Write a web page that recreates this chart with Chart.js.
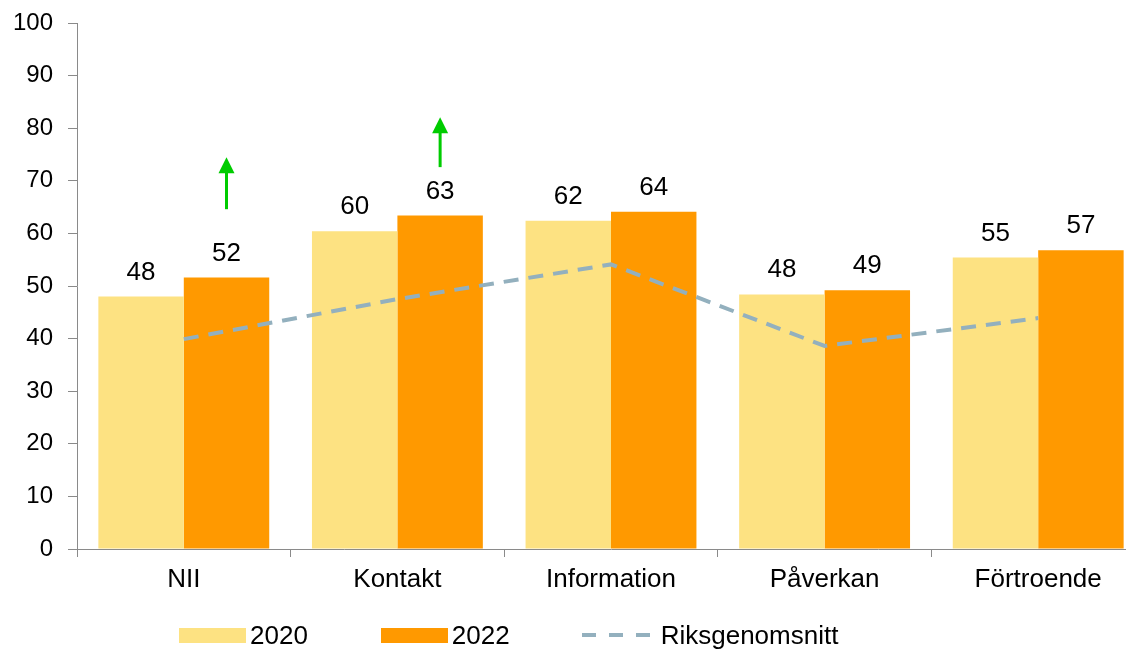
<!DOCTYPE html>
<html>
<head>
<meta charset="utf-8">
<script src="https://cdn.jsdelivr.net/npm/chart.js@4"></script>
<style>
    html, body { margin: 0; padding: 0; background: #fff; overflow: hidden; }
    #wrap { position: relative; width: 1150px; height: 650px; }
    #legend {
        position: absolute; left: 179px; top: 620px; height: 31px;
        display: flex; align-items: center;
        font-family: 'Liberation Sans', Arial, sans-serif; font-size: 26px; color: #000;
    }
    .box { width: 67px; height: 15px; margin-right: 4px; }
    .dash {
        width: 68px; height: 4px; margin-right: 11px; margin-top: -2px;
        background: repeating-linear-gradient(to right, #93B0BE 0 14px, transparent 14px 27px);
    }
</style>
</head>
<body>
<div id="wrap">
    <canvas id="chart" width="1150" height="650"></canvas>
    <div id="legend">
        <div class="box" style="background:#FDE282"></div><span style="margin-right:73px">2020</span>
        <div class="box" style="background:#FF9900"></div><span style="margin-right:72px">2022</span>
        <div class="dash"></div><span>Riksgenomsnitt</span>
    </div>
</div>
<script>
// Data
const categories = ['NII', 'Kontakt', 'Information', 'Påverkan', 'Förtroende'];
const values2020 = [48.0, 60.4, 62.4, 48.4, 55.4];
const values2022 = [51.6, 63.4, 64.1, 49.2, 56.8];
const riksgenomsnitt = [39.9, 47.5, 54.1, 38.6, 43.9];
// green arrows over the 2022 bars (from / to in axis values)
const arrowFrom = [64.6, 72.6, null, null, null];
const arrowTo = [74.5, 82.1, null, null, null];

Chart.defaults.font.family = "'Liberation Sans', Arial, sans-serif";
Chart.defaults.color = '#000';

// labels above bars
const barLabels = {
    id: 'barLabels',
    afterDatasetsDraw(chart) {
        const ctx = chart.ctx;
        ctx.save();
        ctx.font = "26px 'Liberation Sans', Arial, sans-serif";
        ctx.fillStyle = '#000';
        ctx.textAlign = 'center';
        ctx.textBaseline = 'alphabetic';
        [0, 1].forEach(di => {
            const meta = chart.getDatasetMeta(di);
            meta.data.forEach((bar, i) => {
                const v = chart.data.datasets[di].data[i];
                ctx.fillText(Math.round(v), bar.x, bar.y - 17);
            });
        });
        ctx.restore();
    }
};

const arrows = {
    id: 'arrows',
    afterDatasetsDraw(chart) {
        const ctx = chart.ctx;
        const y = chart.scales.y;
        const meta = chart.getDatasetMeta(1);
        ctx.save();
        ctx.fillStyle = '#00CC00';
        ctx.strokeStyle = '#00CC00';
        arrowFrom.forEach((from, i) => {
            if (from == null) return;
            const x = meta.data[i].x;
            const y0 = y.getPixelForValue(from);
            const y1 = y.getPixelForValue(arrowTo[i]);
            ctx.lineWidth = 3;
            ctx.beginPath();
            ctx.moveTo(x, y0);
            ctx.lineTo(x, y1 + 14);
            ctx.stroke();
            ctx.beginPath();
            ctx.moveTo(x, y1);
            ctx.lineTo(x - 8, y1 + 16);
            ctx.lineTo(x + 8, y1 + 16);
            ctx.closePath();
            ctx.fill();
        });
        ctx.restore();
    }
};

new Chart(document.getElementById('chart'), {
    type: 'bar',
    data: {
        labels: categories,
        datasets: [
            {
                label: '2020',
                data: values2020,
                backgroundColor: '#FDE282',
                categoryPercentage: 0.8,
                barPercentage: 1.0,
                order: 1
            },
            {
                label: '2022',
                data: values2022,
                backgroundColor: '#FF9900',
                categoryPercentage: 0.8,
                barPercentage: 1.0,
                order: 1
            },
            {
                type: 'line',
                label: 'Riksgenomsnitt',
                data: riksgenomsnitt,
                borderColor: '#93B0BE',
                borderWidth: 4,
                borderDash: [15, 10],
                pointRadius: 0,
                tension: 0,
                fill: false,
                order: 0
            }
        ]
    },
    options: {
        responsive: false,
        animation: false,
        layout: { padding: { top: 23, right: 5, left: 0, bottom: 0 } },
        plugins: {
            legend: { display: false },
            tooltip: { enabled: false }
        },
        scales: {
            x: {
                offset: true,
                grid: { offset: true, drawOnChartArea: false, drawTicks: true, tickLength: 8, color: '#8A8A8A' },
                border: { color: '#8A8A8A', width: 1 },
                ticks: { font: { size: 26 }, padding: 7, color: '#000', maxRotation: 0 },
                afterFit: (s) => { s.height = 101; }
            },
            y: {
                min: 0,
                max: 100,
                ticks: { stepSize: 10, font: { size: 24 }, padding: 15, color: '#000' },
                grid: { drawOnChartArea: false, drawTicks: true, tickLength: 9, color: '#8A8A8A' },
                border: { color: '#8A8A8A', width: 1 },
                afterFit: (s) => { s.width = 77; s.paddingTop = 0; s.paddingBottom = 0; }
            }
        }
    },
    plugins: [barLabels, arrows]
});
</script>
</body>
</html>
